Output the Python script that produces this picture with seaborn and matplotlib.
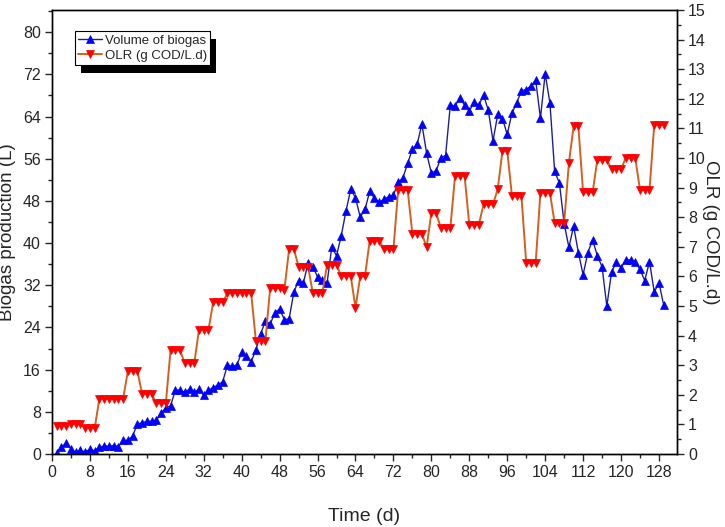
import pandas as pd
import matplotlib
matplotlib.use("Agg")
import matplotlib.pyplot as plt
import seaborn as sns
from matplotlib.patches import Rectangle
from matplotlib.transforms import IdentityTransform
from matplotlib.ticker import MultipleLocator

days = list(range(1, 130))

biogas = [0.2, 1.3, 2.1, 1.0, 0.3, 0.7, 0.4, 0.9, 0.6, 1.3,
          1.5, 1.5, 1.6, 1.4, 2.6, 2.6, 3.4, 5.7, 5.9, 6.2,
          6.2, 6.4, 7.7, 8.8, 9.1, 12.1, 12.1, 11.7, 12.3, 11.7,
          12.3, 11.1, 12.1, 12.6, 13.1, 13.7, 16.9, 16.6, 16.9, 19.3,
          18.5, 17.5, 19.8, 22.7, 25.3, 24.6, 26.8, 27.5, 25.5, 25.6,
          30.7, 32.9, 32.4, 36.2, 35.5, 33.6, 33.0, 32.4, 39.2, 37.6,
          41.4, 46.1, 50.2, 48.6, 44.9, 46.4, 49.8, 48.5, 47.7, 48.3,
          48.8, 49.1, 51.5, 52.4, 55.1, 57.8, 58.7, 62.6, 57.0, 53.3,
          53.7, 56.2, 56.6, 66.2, 66.0, 67.5, 66.2, 65.0, 66.8, 66.1,
          68.1, 65.2, 59.4, 64.4, 63.6, 60.6, 64.7, 66.6, 68.9, 69.1,
          69.8, 70.9, 63.7, 72.1, 66.6, 53.6, 51.4, 43.7, 39.2, 43.2,
          38.2, 34.0, 38.2, 40.6, 37.6, 35.5, 28.0, 34.5, 36.4, 35.3,
          36.8, 36.8, 36.5, 35.0, 32.9, 36.5, 30.7, 32.5, 28.2]

olr = [0.95, 0.95, 0.95, 1.01, 1.01, 1.01, 0.87, 0.87, 0.87,
       1.87, 1.87, 1.87, 1.87, 1.87, 1.87,
       2.80, 2.80, 2.80, 2.04, 2.04, 2.04, 1.71, 1.71, 1.71,
       3.50, 3.50, 3.50, 3.07, 3.07, 3.07, 4.20, 4.20, 4.20,
       5.13, 5.13, 5.13, 5.43, 5.43, 5.43, 5.43, 5.43, 5.43,
       3.82, 3.82, 3.82, 5.60, 5.60, 5.60, 5.53, 6.93, 6.93,
       6.33, 6.33, 6.33, 5.44, 5.44, 5.44, 6.38, 6.38, 6.38,
       6.01, 6.01, 6.01, 4.94, 6.00, 6.00, 7.21, 7.21, 7.21,
       6.91, 6.91, 6.91, 8.92, 8.92, 8.92, 7.44, 7.44, 7.44, 6.99,
       8.15, 8.15, 7.63, 7.63, 7.63, 9.40, 9.40, 9.40,
       7.74, 7.74, 7.74, 8.43, 8.43, 8.43, 8.95, 10.25, 10.25,
       8.70, 8.70, 8.70, 6.46, 6.46, 6.46, 8.83, 8.83, 8.83,
       7.80, 7.80, 7.80, 9.83, 11.07, 11.07, 8.84, 8.84, 8.84,
       9.93, 9.93, 9.93, 9.63, 9.63, 9.63, 10.00, 10.00, 10.00,
       8.92, 8.92, 8.92, 11.12, 11.12, 11.12]

df = pd.DataFrame({"day": days, "biogas": biogas, "olr": olr})

sns.set_style("ticks")
plt.rcParams["font.family"] = ["Liberation Sans", "DejaVu Sans"]
plt.rcParams["axes.linewidth"] = 1.0

fig = plt.figure(figsize=(7.25, 5.27), dpi=100)
ax = fig.add_axes([52 / 725, 73 / 527, 625 / 725, 444 / 527])
ax2 = ax.twinx()

sns.lineplot(data=df, x="day", y="biogas", ax=ax, color="#1e1e96", lw=1.0,
             marker="^", markersize=5.5, markerfacecolor="#0000ff",
             markeredgecolor="#0000ff", markeredgewidth=0.5,
             errorbar=None, sort=False, label="Volume of biogas", legend=False)
sns.lineplot(data=df, x="day", y="olr", ax=ax2, color="#d2601e", lw=1.4,
             marker="v", markersize=5.5, markerfacecolor="#ff0000",
             markeredgecolor="#ff0000", markeredgewidth=0.5,
             errorbar=None, sort=False, label="OLR (g COD/L.d)", legend=False)

ax.set_xlim(0, 131.8)
ax.set_ylim(0, 84.2)
ax2.set_ylim(0, 15)

ax.xaxis.set_major_locator(MultipleLocator(8))
ax.xaxis.set_minor_locator(MultipleLocator(4))
ax.yaxis.set_major_locator(MultipleLocator(8))
ax.yaxis.set_minor_locator(MultipleLocator(4))
ax2.yaxis.set_major_locator(MultipleLocator(1))
ax2.yaxis.set_minor_locator(MultipleLocator(0.5))

for a in (ax, ax2):
    a.tick_params(which="major", length=5, width=1, labelsize=11.5,
                  direction="out", pad=3)
    a.tick_params(which="minor", length=3, width=1, direction="out")
    for s in a.spines.values():
        s.set_visible(True)
        s.set_color("black")
        s.set_linewidth(1.0)
ax.tick_params(top=False, which="both")

ax.set_xlabel("Time (d)", fontsize=14, labelpad=20)
ax.set_ylabel("Biogas production (L)", fontsize=13.5)
ax.yaxis.set_label_coords(-36 / 625, 0.5)
ax2.set_ylabel("OLR (g COD/L.d)", fontsize=13.5, rotation=270, va="center")
ax2.yaxis.set_label_coords(1 + 34 / 625, 0.5)

h1, l1 = ax.get_legend_handles_labels()
h2, l2 = ax2.get_legend_handles_labels()
leg = ax2.legend(h1 + h2, l1 + l2, loc="upper left",
                 bbox_to_anchor=(23 / 625, 423 / 444), borderaxespad=0,
                 fontsize=9.5, frameon=True, fancybox=False, framealpha=1,
                 edgecolor="black", handlelength=1.8, handletextpad=0.2,
                 borderpad=0.25, labelspacing=0.25)
leg.get_frame().set_linewidth(0.8)
leg.set_zorder(10)

# Origin style solid black drop shadow behind the legend box
fig.canvas.draw()
bb = leg.get_window_extent()
shadow = Rectangle((bb.x0 + 6, bb.y0 - 8), bb.width, bb.height,
                   transform=IdentityTransform(), facecolor="black",
                   edgecolor="none", zorder=9, clip_on=False)
ax2.add_artist(shadow)

fig.savefig("out.png", dpi=100)
